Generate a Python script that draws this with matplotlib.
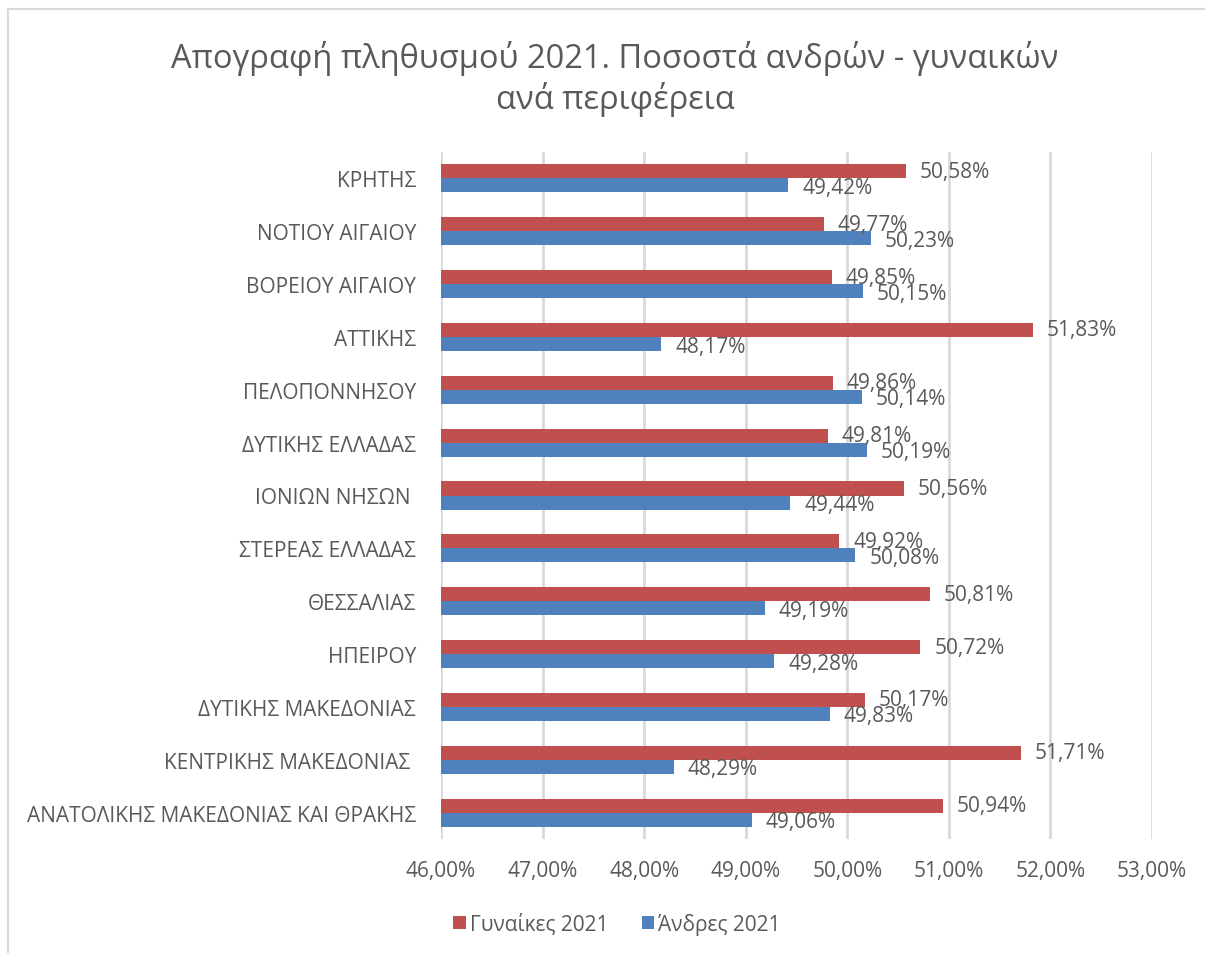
import numpy as np
import matplotlib
matplotlib.use("Agg")
from matplotlib import pyplot as plt
from matplotlib.patches import Rectangle

plt.rcParams['font.family'] = ['Open Sans', 'DejaVu Sans']

regions = ["ΑΝΑΤΟΛΙΚΗΣ ΜΑΚΕΔΟΝΙΑΣ ΚΑΙ ΘΡΑΚΗΣ", "ΚΕΝΤΡΙΚΗΣ ΜΑΚΕΔΟΝΙΑΣ ", "ΔΥΤΙΚΗΣ ΜΑΚΕΔΟΝΙΑΣ",
           "ΗΠΕΙΡΟΥ", "ΘΕΣΣΑΛΙΑΣ", "ΣΤΕΡΕΑΣ ΕΛΛΑΔΑΣ", "ΙΟΝΙΩΝ ΝΗΣΩΝ ", "ΔΥΤΙΚΗΣ ΕΛΛΑΔΑΣ",
           "ΠΕΛΟΠΟΝΝΗΣΟΥ", "ΑΤΤΙΚΗΣ", "ΒΟΡΕΙΟΥ ΑΙΓΑΙΟΥ", "ΝΟΤΙΟΥ ΑΙΓΑΙΟΥ", "ΚΡΗΤΗΣ"]
women = [50.94, 51.71, 50.17, 50.72, 50.81, 49.92, 50.56, 49.81, 49.86, 51.83, 49.85, 49.77, 50.58]
men = [49.06, 48.29, 49.83, 49.28, 49.19, 50.08, 49.44, 50.19, 50.14, 48.17, 50.15, 50.23, 49.42]
ticks = [46, 47, 48, 49, 50, 51, 52, 53]

red = '#C0504D'
blue = '#4F81BD'
txt = '#595959'

fig = plt.figure(figsize=(12.05, 9.54), dpi=100)
# chart frame (right/bottom edges fall outside the picture)
fig.patches.append(Rectangle((8/1205, -0.01), 1.2, 1 - 10/954 + 0.01, transform=fig.transFigure,
                             fill=False, edgecolor='#D9D9D9', lw=1.5))
ax = fig.add_axes([441/1205, 1 - 840/954, 711/1205, 687/954])

y = np.arange(len(regions))
h = 0.265
base = 46
ax.barh(y + h/2, np.array(women) - base, height=h, left=base, color=red, label='Γυναίκες 2021')
ax.barh(y - h/2, np.array(men) - base, height=h, left=base, color=blue, label='Άνδρες 2021')

for i in range(len(regions)):
    ax.annotate(f"{women[i]:.2f}%".replace('.', ','), (women[i], y[i] + h/2), xytext=(10, 0),
                textcoords='offset points', va='center', ha='left', fontsize=15, color=txt)
    ax.annotate(f"{men[i]:.2f}%".replace('.', ','), (men[i], y[i] - h/2), xytext=(10, -1.5),
                textcoords='offset points', va='center', ha='left', fontsize=15, color=txt)

ax.set_xlim(46, 53)
ax.set_ylim(-0.5, len(regions) - 0.5)
ax.set_xticks(ticks)
ax.set_xticklabels([f"{t:.2f}%".replace('.', ',') for t in ticks], fontsize=15, color=txt)
ax.set_yticks(y)
ax.set_yticklabels(regions, fontsize=15, color=txt)
ax.tick_params(length=0, pad=18)
ax.tick_params(axis='x', pad=15)
ax.grid(axis='x', color='#D9D9D9', lw=2)
ax.set_axisbelow(True)
for s in ax.spines.values():
    s.set_visible(False)

fig.text(615/1205, 1 - 79/954, 'Απογραφή πληθυσμού 2021. Ποσοστά ανδρών - γυναικών\nανά περιφέρεια',
         ha='center', va='center', fontsize=23.5, color=txt, linespacing=1.2)

handles, labels = ax.get_legend_handles_labels()
fig.legend(handles, labels, loc='center', bbox_to_anchor=(617/1205, 1 - 925/954), ncol=2,
           frameon=False, fontsize=15, labelcolor=txt, handlelength=0.6, handleheight=0.6,
           handletextpad=0.2, columnspacing=1.6)

fig.savefig('out.png', dpi=100)
